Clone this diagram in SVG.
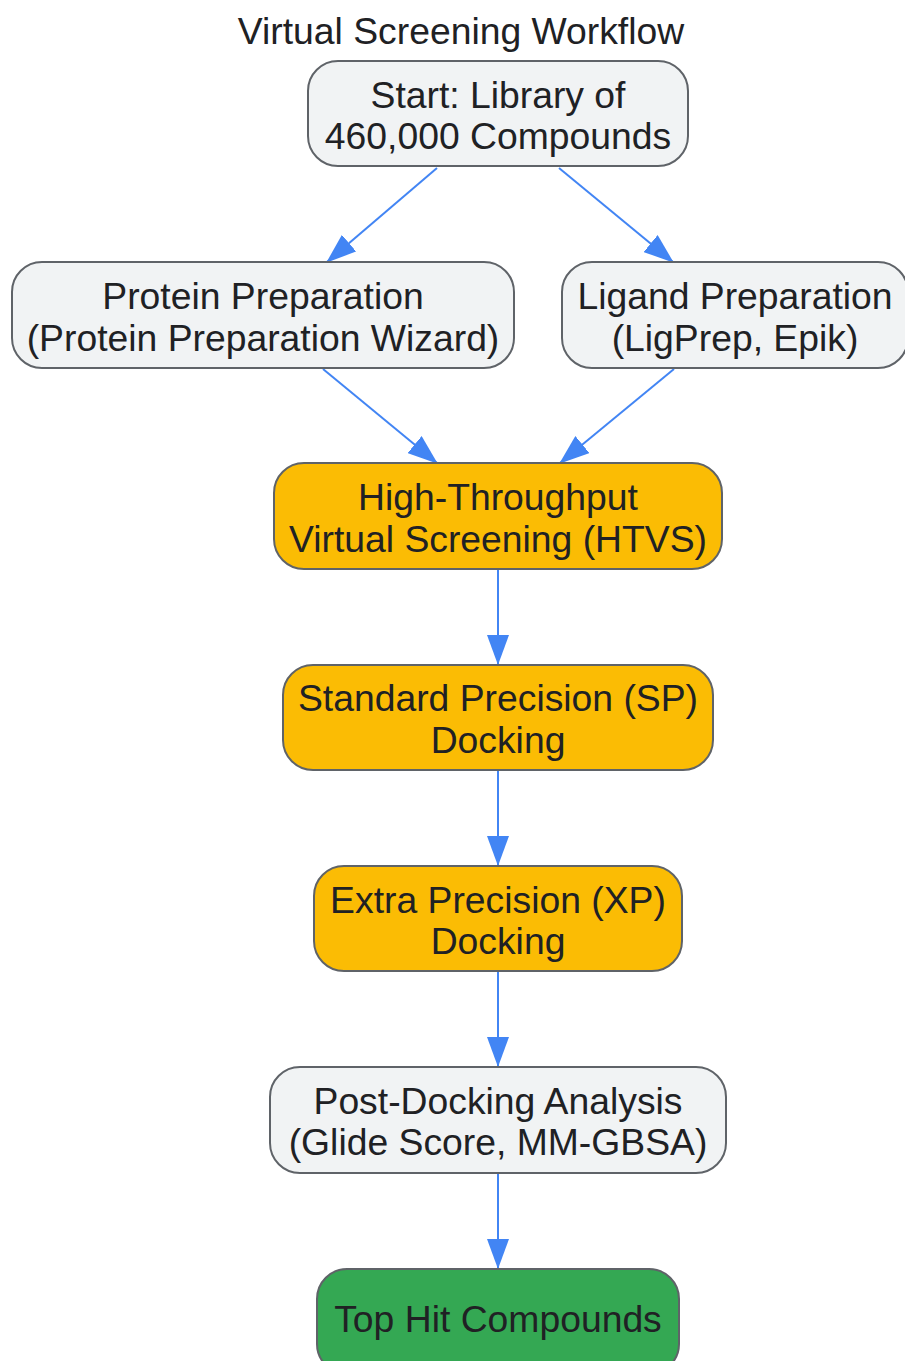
<svg xmlns="http://www.w3.org/2000/svg" width="905" height="1361" viewBox="0 0 905 1361">
<style>
.n rect{stroke:#5f6368;stroke-width:2}
.g rect{fill:#f1f3f4}
.o rect{fill:#fbbc04}
.gr rect{fill:#34a853}
text{font-family:"Liberation Sans",Arial,sans-serif;font-size:37.3px;fill:#202124;text-anchor:middle}
#edges line{stroke:#4285f4;stroke-width:2;fill:none}
</style>
<defs>
<marker id="ah" markerWidth="30" markerHeight="22" refX="29" refY="11" orient="auto" markerUnits="userSpaceOnUse">
<path d="M0,0 L30,11 L0,22 Z" fill="#4285f4"/>
</marker>
</defs>
<rect width="905" height="1361" fill="#ffffff"/>
<text x="461" y="44">Virtual Screening Workflow</text>
<g id="edges">
<line x1="437" y1="168" x2="327" y2="262" marker-end="url(#ah)"/>
<line x1="559" y1="168" x2="673" y2="262" marker-end="url(#ah)"/>
<line x1="323" y1="369" x2="437" y2="463" marker-end="url(#ah)"/>
<line x1="674" y1="369" x2="560" y2="463" marker-end="url(#ah)"/>
<line x1="498" y1="570" x2="498" y2="664" marker-end="url(#ah)"/>
<line x1="498" y1="771" x2="498" y2="865" marker-end="url(#ah)"/>
<line x1="498" y1="972" x2="498" y2="1066" marker-end="url(#ah)"/>
<line x1="498" y1="1174" x2="498" y2="1268" marker-end="url(#ah)"/>
</g>
<g id="start" class="n g"><rect x="308" y="61" width="380" height="105" rx="30"/><text x="498" y="108">Start: Library of</text><text x="498" y="149">460,000 Compounds</text></g>
<g id="protein" class="n g"><rect x="12" y="262" width="502" height="106" rx="30"/><text x="263" y="309">Protein Preparation</text><text x="263" y="351">(Protein Preparation Wizard)</text></g>
<g id="ligand" class="n g"><rect x="562" y="262" width="346" height="106" rx="30"/><text x="735" y="309">Ligand Preparation</text><text x="735" y="351">(LigPrep, Epik)</text></g>
<g id="htvs" class="n o"><rect x="274" y="463" width="448" height="106" rx="30"/><text x="498" y="510">High-Throughput</text><text x="498" y="552">Virtual Screening (HTVS)</text></g>
<g id="sp" class="n o"><rect x="283" y="665" width="430" height="105" rx="30"/><text x="498" y="711">Standard Precision (SP)</text><text x="498" y="753">Docking</text></g>
<g id="xp" class="n o"><rect x="314" y="866" width="368" height="105" rx="30"/><text x="498" y="913">Extra Precision (XP)</text><text x="498" y="954">Docking</text></g>
<g id="post" class="n g"><rect x="270" y="1067" width="456" height="106" rx="30"/><text x="498" y="1114">Post-Docking Analysis</text><text x="498" y="1155">(Glide Score, MM-GBSA)</text></g>
<g id="top" class="n gr"><rect x="317" y="1269" width="362" height="105" rx="30"/><text x="498" y="1332">Top Hit Compounds</text></g>
</svg>
